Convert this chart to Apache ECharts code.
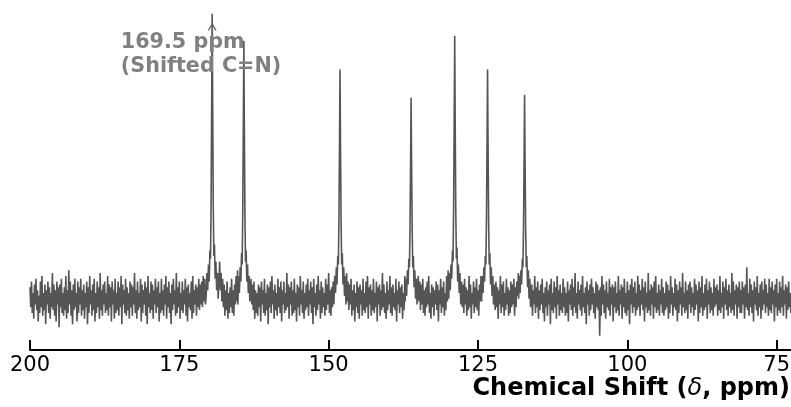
<!DOCTYPE html>
<html>
<head>
<meta charset="utf-8">
<title>13C NMR spectrum</title>
<script src="https://cdn.jsdelivr.net/npm/echarts@6/dist/echarts.min.js"></script>
<style>
  html, body { margin: 0; padding: 0; background: #fff; }
  #chart { width: 791px; height: 407px; }
</style>
</head>
<body>
<div id="chart"></div>
<script>
// Axis tick values (ppm)
const tickValues = [200, 175, 150, 125, 100, 75];

// Baseline noise, sampled every 0.125 ppm starting at 200 ppm (intensity, a.u.)
const noiseStartPpm = 200;
const noiseStepPpm = 0.125;
const baselineNoise = [
  4,-3,6,-5,2,-7,5,-2,7,-4,3,-8,1,-5,6,-3,8,-6,2,-4,5,-9,3,-2,6,-5,4,-7,2,-3,9,-4,5,-6,
  3,-8,6,-2,4,-10,5,-3,7,-5,2,-6,4,-4,8,-7,3,-5,10,-2,6,-6,3,-9,5,-4,7,-3,2,-8,6,-5,4,-2,
  7,-6,3,-4,5,-7,2,-3,6,-9,4,-5,8,-2,3,-6,5,-4,7,-8,2,-5,6,-3,4,-7,9,-4,3,-6,5,-2,6,-5,
  2,-4,8,-6,5,-3,4,-8,6,-2,3,-7,7,-5,2,-4,6,-6,4,-3,8,-9,5,-2,3,-5,7,-6,4,-4,2,-7,6,-3,
  5,-6,4,-2,9,-5,3,-7,6,-4,2,-3,7,-8,5,-5,3,-2,6,-6,4,-9,8,-3,2,-5,6,-4,5,-7,3,-2,7,-5,
  4,-3,6,-8,2,-5,7,-4,3,-6,5,-2,8,-7,4,-3,6,-5,2,-9,5,-4,7,-2,3,-6,9,-5,4,-3,6,-7,2,-4,
  6,-5,3,-2,7,-6,4,-8,5,-3,2,-4,6,-7,8,-5,3,-2,5,-6,4,-3,7,-4,5,-2,6,-3,8,-1,7,-2,9,-1,
  11,1,14,3,17,6,20,9,25,12,30,15,25,10,18,6,13,3,9,-1,7,-3,5,-6,3,-4,6,-7,2,-5,4,-3,7,-5,
  3,-6,5,-2,8,-1,10,2,12,4,15,6,20,9,25,12,30,10,22,6,14,3,10,1,7,-2,5,-4,6,-7,3,-5,2,-6,
  5,-3,4,-8,6,-2,3,-5,7,-6,2,-4,5,-9,4,-3,6,-5,8,-2,3,-7,5,-4,2,-6,7,-3,4,-5,6,-8,3,-2,
  6,-5,2,-4,9,-3,5,-7,4,-2,6,-6,3,-5,7,-4,2,-8,5,-3,4,-6,8,-2,3,-5,6,-7,2,-4,5,-3,7,-6,
  3,-2,6,-5,4,-9,7,-3,2,-6,5,-4,8,-2,3,-7,6,-5,4,-3,2,-6,7,-4,5,-2,9,-5,3,-6,4,-3,6,-2,
  8,0,10,2,13,5,17,8,22,11,25,9,19,6,13,3,9,-1,6,-4,5,-2,7,-6,3,-4,5,-8,2,-3,6,-5,4,-7,
  5,-2,3,-6,7,-4,2,-5,6,-3,8,-7,4,-2,5,-6,3,-4,7,-5,2,-3,6,-8,4,-2,5,-6,3,-4,9,-3,5,-5,
  2,-7,6,-4,3,-2,8,-5,4,-6,5,-3,2,-4,7,-8,3,-2,6,-5,4,-3,5,-7,2,-4,8,-3,6,-2,9,1,11,3,
  14,6,18,9,22,12,16,6,11,2,8,-1,6,-4,5,-2,7,-5,3,-6,4,-3,6,-2,8,-5,2,-7,5,-3,4,-6,3,-2,
  6,-4,5,-8,3,-2,7,-5,4,-3,6,-6,2,-4,8,-1,10,3,13,5,18,9,24,13,28,12,22,8,15,5,11,2,8,-2,
  6,-3,5,-5,7,-2,4,-6,3,-4,8,-3,5,-7,2,-2,6,-5,4,-3,7,-4,3,-6,5,-1,8,1,11,4,15,7,20,10,
  26,12,20,8,14,5,10,2,7,-2,5,-4,6,-3,4,-7,3,-2,8,-5,5,-3,6,-6,2,-4,7,-2,4,-6,3,-5,6,-3,
  5,-2,7,-6,4,-3,6,1,9,3,12,6,16,9,22,12,25,10,18,7,13,4,9,1,7,-3,5,-6,3,-2,8,-5,4,-3,
  6,-7,3,-4,5,-2,7,-5,2,-8,4,-3,6,-6,3,-2,5,-9,7,-4,2,-5,6,-3,4,-7,8,-2,3,-6,5,-4,2,-5,
  7,-3,4,-6,2,-5,6,-8,3,-2,5,-4,7,-6,4,-3,9,-5,2,-7,6,-2,3,-4,5,-6,8,-3,2,-5,4,-9,6,-2,
  3,-6,5,-4,7,-2,4,-5,2,-7,6,-3,5,-4,3,-13,4,-6,8,-2,5,-5,3,-7,6,-3,2,-4,7,-6,4,-2,5,-8,
  4,-3,6,-5,2,-4,8,-6,3,-2,5,-7,4,-3,7,-5,2,-6,6,-4,3,-9,5,-2,7,-5,4,-3,6,-6,2,-4,8,-3,
  5,-6,3,-2,7,-4,4,-8,6,-3,2,-5,9,-4,3,-6,5,-2,4,-7,6,-3,8,-5,2,-4,5,-6,3,-2,7,-5,4,-6,
  2,-4,6,-3,5,-7,3,-5,8,-2,4,-6,2,-3,7,-4,5,-8,3,-5,6,-2,4,-6,9,-3,2,-5,6,-4,3,-7,5,-2,
  6,-5,4,-3,2,-6,7,-4,5,-2,3,-8,6,-5,4,-3,8,-6,2,-4,5,-3,7,-7,3,-2,6,-5,4,-4,2,-6,7,-3,
  4,-2,5,-6,3,-4,8,-5,2,-3,6,-7,4,-2,7,-4,3,-6,5,-3,2,-5,9,-4,6,-6,3,-2,5,-7,4,-3,6,-5,
  3,-5,6,-2,4,-7,5,-3,11,-4,2,-6,7,-3,5,-5,3,-8,6,-2,4,-4,8,-6,2,-3,5,-7,6,-4,3,-2,7,-5,
  5,-3,2,-6,7,-4,4,-5,6,-2,3,-8,5,-3,7,-6,2,-4,6,-5,4,-3,8,-6,3,-2,5,-7,4,-4,6,-3,2,-5
];

// Resonance lines: [ppm, intensity] points across each peak, noise riding on the tails
const peak1695 = [[170.5,1],[170.38,9],[170.25,3],[170.12,12],[170.0,6],[169.88,17],[169.78,14],[169.68,34],[169.58,70],[169.5,100],[169.42,68],[169.32,33],[169.22,15],[169.12,19],[169.0,7],[168.88,13],[168.75,3],[168.62,9],[168.5,0]];
const peak1642 = [[165.2,-2],[165.08,8],[164.95,2],[164.82,11],[164.7,6],[164.58,16],[164.48,12],[164.38,31],[164.28,63],[164.2,90.5],[164.12,61],[164.02,30],[163.92,13],[163.82,17],[163.7,6],[163.58,12],[163.45,2],[163.32,8],[163.2,-1]];
const peak1481 = [[149.1,0],[148.98,8],[148.85,2],[148.72,11],[148.6,5],[148.48,15],[148.38,12],[148.28,28],[148.18,56],[148.1,80.4],[148.02,55],[147.92,27],[147.82,12],[147.72,16],[147.6,5],[147.48,11],[147.35,1],[147.22,8],[147.1,-2]];
const peak1362 = [[137.2,-1],[137.08,7],[136.95,1],[136.82,10],[136.7,5],[136.58,14],[136.48,11],[136.38,25],[136.28,49],[136.2,70.5],[136.12,48],[136.02,24],[135.92,11],[135.82,15],[135.7,4],[135.58,10],[135.45,0],[135.32,7],[135.2,-2]];
const peak1289 = [[129.9,0],[129.78,9],[129.65,3],[129.52,12],[129.4,7],[129.28,17],[129.18,13],[129.08,32],[128.98,64],[128.9,92.3],[128.82,63],[128.72,31],[128.62,14],[128.52,18],[128.4,6],[128.28,12],[128.15,2],[128.02,9],[127.9,-1]];
const peak1234 = [[124.4,-1],[124.28,8],[124.15,2],[124.02,11],[123.9,6],[123.78,15],[123.68,12],[123.58,28],[123.48,56],[123.4,80.4],[123.32,55],[123.22,27],[123.12,12],[123.02,16],[122.9,5],[122.78,11],[122.65,1],[122.52,8],[122.4,-2]];
const peak1172 = [[118.2,0],[118.08,8],[117.95,2],[117.82,10],[117.7,5],[117.58,14],[117.48,11],[117.38,25],[117.28,50],[117.2,71.6],[117.12,49],[117.02,24],[116.92,11],[116.82,15],[116.7,4],[116.58,10],[116.45,0],[116.32,7],[116.2,-3]];

// Annotated resonance
const labelledShift = 169.5;
const labelText = '169.5 ppm\n(Shifted C=N)';

// Assemble the spectrum: baseline samples outside the peak windows plus the peak points
const peaks = [peak1695, peak1642, peak1481, peak1362, peak1289, peak1234, peak1172];
const baseline = baselineNoise.map((v, i) => [noiseStartPpm - i * noiseStepPpm, v]);
const spectrum = baseline.filter(([x]) =>
  !peaks.some(p => x <= p[0][0] && x >= p[p.length - 1][0]));
peaks.forEach(p => spectrum.push(...p));
spectrum.sort((a, b) => b[0] - a[0]);

const FONT = 'DejaVu Sans';
const chart = echarts.init(document.getElementById('chart'), null, { renderer: 'canvas' });

chart.setOption({
  animation: false,
  backgroundColor: '#ffffff',
  grid: { left: 30, right: 0, top: 8, bottom: 57, containLabel: false, outerBoundsMode: 'none' },
  title: {
    text: '{a|Chemical Shift (}{d|δ}{a|, ppm)}',
    right: 1,
    top: 377,
    padding: 0,
    textStyle: {
      rich: {
        a: { fontFamily: FONT, fontSize: 24, fontWeight: 'bold', color: '#000' },
        d: { fontFamily: FONT, fontSize: 24, fontWeight: 'normal', fontStyle: 'italic', color: '#000' }
      }
    }
  },
  xAxis: {
    type: 'value',
    inverse: true,
    min: 72.6,
    max: 200,
    axisLine: { show: true, onZero: false, lineStyle: { color: '#000', width: 2 } },
    axisTick: { show: true, inside: true, length: 10, lineStyle: { color: '#000', width: 2 }, customValues: tickValues },
    axisLabel: { show: true, margin: 5, fontFamily: FONT, fontSize: 21, color: '#000', customValues: tickValues },
    splitLine: { show: false }
  },
  yAxis: {
    type: 'value',
    show: false,
    min: -18,
    max: 102,
    splitLine: { show: false }
  },
  series: [{
    type: 'line',
    data: spectrum,
    showSymbol: false,
    symbol: 'none',
    clip: true,
    lineStyle: { color: '#555555', width: 1.6 },
    markLine: {
      silent: true,
      symbol: ['none', 'path://M0,10 L5,0 L10,10 L8.4,10 L5,3.2 L1.6,10 Z'],
      symbolSize: [9, 8],
      lineStyle: { color: '#666666', width: 1.2, type: 'solid' },
      label: { show: false },
      data: [[{ coord: [labelledShift, 90] }, { coord: [labelledShift, 95.5] }]]
    },
    markPoint: {
      silent: true,
      symbol: 'circle',
      symbolSize: 0,
      data: [{
        coord: [184.8, 94],
        label: {
          show: true,
          formatter: labelText,
          position: [0, 0],
          align: 'left',
          verticalAlign: 'top',
          fontFamily: FONT,
          fontSize: 20.7,
          fontWeight: 'bold',
          lineHeight: 24,
          color: '#808080'
        }
      }]
    }
  }]
});
</script>
</body>
</html>
